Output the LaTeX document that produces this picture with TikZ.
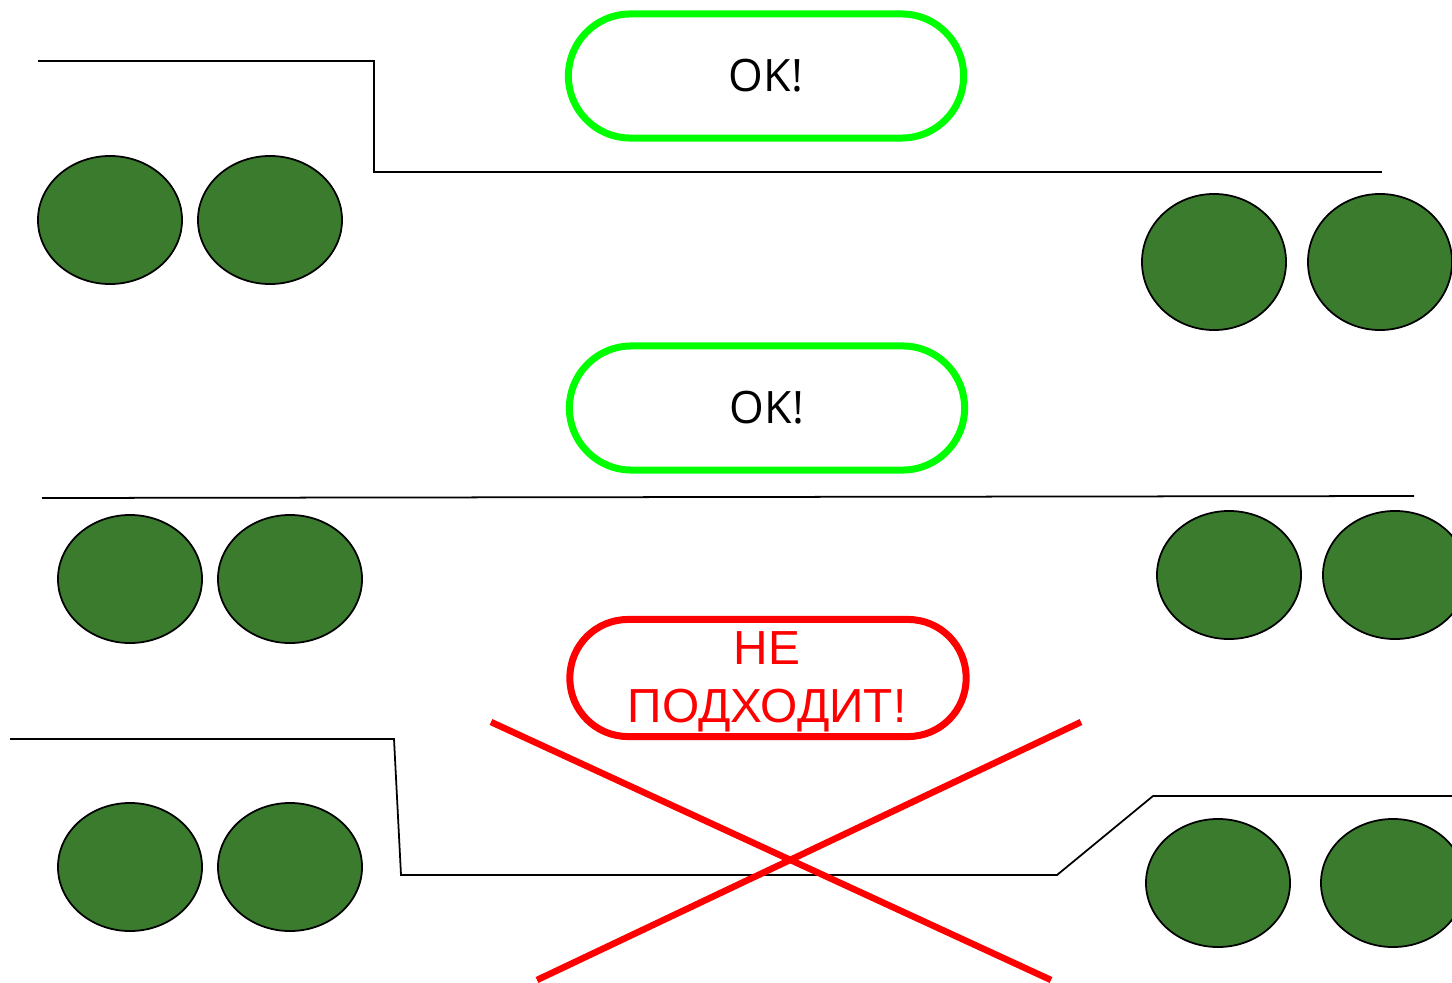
\documentclass[tikz,border=0pt]{standalone}
\usepackage{fontspec}
\setmainfont{Open Sans}
\newfontfamily\arialfont{Liberation Sans}
\usetikzlibrary{shapes.geometric}
\definecolor{wheelgreen}{RGB}{58,123,46}
\definecolor{okgreen}{RGB}{0,255,0}

\begin{document}
\begin{tikzpicture}[
  x=0.01cm, y=-0.01cm,
  wheel/.style={
    ellipse, draw=black, line width=0.5pt, fill=wheelgreen,
    minimum width=1.44cm, minimum height=1.28cm, inner sep=0pt
  },
  okbox/.style={
    draw=okgreen, line width=0.07cm, rounded corners=0.62cm,
    minimum width=3.95cm, minimum height=1.24cm,
    font=\fontsize{12.7}{15}\selectfont
  },
  badbox/.style={
    draw=red, line width=0.07cm, rounded corners=0.58cm,
    minimum width=3.96cm, minimum height=1.17cm, inner sep=0pt
  },
  badtext/.style={
    text=red, align=center, inner sep=0pt,
    font=\arialfont\fontsize{13.6}{16.5}\selectfont
  },
  frame/.style={draw=black, line width=0.5pt},
  cross/.style={draw=red, line width=0.065cm}
  ]
  \useasboundingbox (0,0) rectangle (1452,982);
  \clip (0,0) rectangle (1452,982);

  % top: ok
  \draw[frame] (38,61) -- (374,61) -- (374,172) -- (1382,172);
  \node[okbox] (ok1) at (766,76) {OK!};
  \node[wheel] (w1a) at (110,220) {};
  \node[wheel] (w1b) at (270,220) {};
  \node[wheel, minimum height=1.36cm] (w1c) at (1214,262) {};
  \node[wheel, minimum height=1.36cm] (w1d) at (1380,262) {};

  % middle: ok
  \draw[frame] (42,498) -- (1414,496);
  \node[okbox] (ok2) at (767,408) {OK!};
  \node[wheel] (w2a) at (130,579) {};
  \node[wheel] (w2b) at (290,579) {};
  \node[wheel] (w2c) at (1229,575) {};
  \node[wheel] (w2d) at (1395,575) {};

  % bottom: not ok
  \draw[frame] (10,739) -- (394,739) -- (401,875) -- (1057,875)
    -- (1153,796) -- (1460,796);
  \node[badbox] (bad) at (768,678) {};
  \node[badtext] (badlabel) at (767,682) {НЕ\\ПОДХОДИТ!};
  \node[wheel] (w3a) at (130,867) {};
  \node[wheel] (w3b) at (290,867) {};
  \node[wheel] (w3c) at (1218,883) {};
  \node[wheel] (w3d) at (1393,883) {};
  \draw[cross] (491,722) -- (1051,980);
  \draw[cross] (1081,722) -- (537,980);
\end{tikzpicture}
\end{document}
